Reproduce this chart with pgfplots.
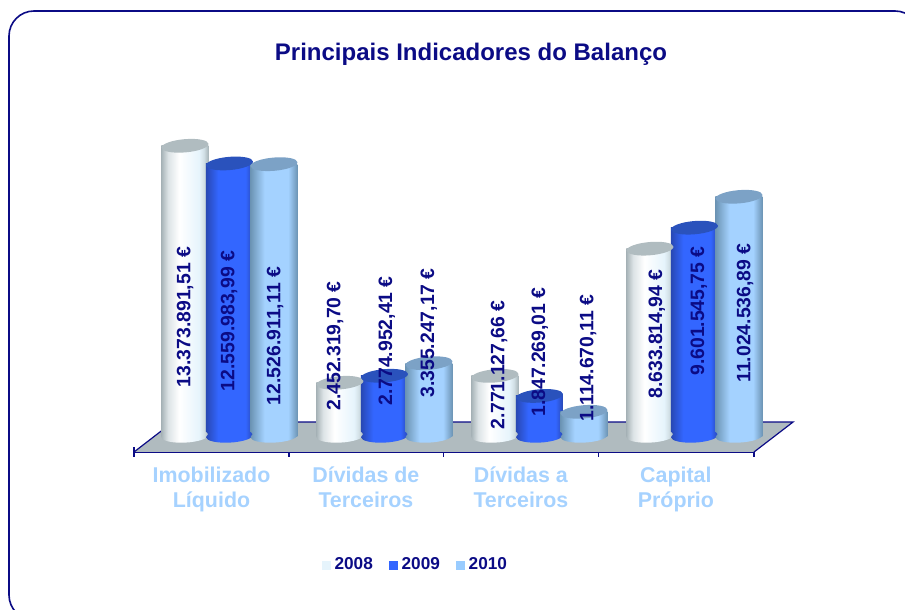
\documentclass[border=0pt]{standalone}
\usepackage{pgfplots}
\usepackage{pgfplotstable}
\usepackage{fontspec}
\setmainfont{Liberation Sans}
\pgfplotsset{compat=1.18}
\definecolor{navy}{HTML}{0B0B85}
\definecolor{catlab}{HTML}{A6D2FF}
\definecolor{floorc}{HTML}{B0BBBF}
\definecolor{capA}{HTML}{B0BCC0}
\definecolor{capB}{HTML}{2A52BC}
\definecolor{capC}{HTML}{7CA2C6}
\definecolor{legA}{HTML}{E6F4FC}
\definecolor{legB}{HTML}{3366FF}
\definecolor{legC}{HTML}{99CCFF}
\definecolor{HTMLa}{HTML}{A8B4B8}
\definecolor{HTMLb}{HTML}{DCE3E6}
\definecolor{HTMLc}{HTML}{E6F4FC}
\definecolor{HTMLd}{HTML}{D2E0E6}
\definecolor{HTMLe}{HTML}{2848B4}
\definecolor{HTMLf}{HTML}{6C94B4}
\definecolor{HTMLg}{HTML}{A4D2FF}
\pgfdeclarehorizontalshading{cylA}{100bp}{color(0bp)=(HTMLa);color(25bp)=(HTMLa);color(32bp)=(HTMLb);color(44bp)=(white);color(65bp)=(HTMLc);color(70bp)=(HTMLd);color(75bp)=(HTMLa);color(100bp)=(HTMLa)}
\pgfdeclarehorizontalshading{cylB}{100bp}{color(0bp)=(HTMLe);color(25bp)=(HTMLe);color(38bp)=(legB);color(67bp)=(legB);color(75bp)=(HTMLe);color(100bp)=(HTMLe)}
\pgfdeclarehorizontalshading{cylC}{100bp}{color(0bp)=(HTMLf);color(25bp)=(HTMLf);color(40bp)=(HTMLg);color(65bp)=(HTMLg);color(75bp)=(HTMLf);color(100bp)=(HTMLf)}
\pgfdeclareplotmark{captop}{\pgfpathellipse{\pgfpointorigin}{\pgfqpoint{11.75pt}{1pt}}{\pgfqpoint{-0.25pt}{3.3pt}}\pgfusepathqfill}
\pgfdeclareplotmark{botA}{\pgfpathellipse{\pgfpointorigin}{\pgfqpoint{11.75pt}{0.6pt}}{\pgfqpoint{-0.15pt}{3.3pt}}\pgfshadepath{cylA}{0}\pgfusepath{discard}}
\pgfdeclareplotmark{botB}{\pgfpathellipse{\pgfpointorigin}{\pgfqpoint{11.75pt}{0.6pt}}{\pgfqpoint{-0.15pt}{3.3pt}}\pgfshadepath{cylB}{0}\pgfusepath{discard}}
\pgfdeclareplotmark{botC}{\pgfpathellipse{\pgfpointorigin}{\pgfqpoint{11.75pt}{0.6pt}}{\pgfqpoint{-0.15pt}{3.3pt}}\pgfshadepath{cylC}{0}\pgfusepath{discard}}
\pgfplotstableread{
xa xb xc ya yb yc
-0.287 0 0.287 13.37389151 12.55998399 12.52691111
0.713 1 1.287 2.45231970 2.77495241 3.35524717
1.713 2 2.287 2.77112766 1.84726901 1.11467011
2.713 3 3.287 8.63381494 9.60154575 11.02453689
}\bars
\pgfplotstableread{
x y lab
-0.300 5.48 {13.373.891,51 €}
-0.016 5.30 {12.559.983,99 €}
0.281 4.61 {12.526.911,11 €}
0.668 4.15 {2.452.319,70 €}
1.003 4.38 {2.774.952,41 €}
1.274 4.75 {3.355.247,17 €}
1.726 3.27 {2.771.127,66 €}
1.990 3.87 {1.847.269,01 €}
2.300 3.59 {1.114.670,11 €}
2.745 4.70 {8.633.814,94 €}
3.016 5.76 {9.601.545,75 €}
3.313 5.67 {11.024.536,89 €}
}\labels
\pgfplotstableread{
x y
-0.616 -0.737
-0.365 0.645
3.636 0.645
3.384 -0.737
}\floorplane
\pgfplotsset{cyl/.style={forget plot,ybar,bar width=23.5pt,bar shift=0pt,draw=none,shade,shading=#1}}
\begin{document}
\begin{tikzpicture}
\useasboundingbox (0,0) rectangle (452.5pt,305pt);
\clip (0,0) rectangle (452.5pt,305pt);
\draw[navy,line width=0.8pt,rounded corners=12.5pt] (4.5pt,-5pt) rectangle (460pt,299.5pt);
\begin{axis}[
  at={(67pt,79pt)},anchor=south west,
  x=77.5pt,y=10.85pt,
  xmin=-0.616,xmax=3.384,ymin=-0.737,ymax=16,
  clip=false,
  axis x line=bottom,axis y line=none,
  axis line style={navy,line width=0.7pt,-},
  xtick={-0.116,0.88,1.88,2.88},
  xticklabels={{Imobilizado\\Líquido},{Dívidas de\\Terceiros},{Dívidas a\\Terceiros},{Capital\\Próprio}},
  minor xtick={-0.616,0.384,1.379,2.38,3.384},
  major tick length=0pt,minor tick length=5pt,
  tick align=center,
  minor tick style={navy,line width=0.7pt},
  xticklabel style={align=center,font=\fontsize{10.7}{12.5}\selectfont\bfseries,text=catlab,yshift=-4pt},
  title={Principais Indicadores do Balanço},
  title style={at={(rel axis cs:0.5435,1.062)},anchor=center,font=\fontsize{12}{14}\selectfont\bfseries,text=navy},
  legend style={at={(0.4555,-0.311)},anchor=center,draw=none,fill=none,legend columns=3,
    font=\fontsize{8.6}{10}\selectfont\bfseries,text=navy,
    /tikz/every even column/.style={column sep=6pt},
    inner sep=0pt},
  nodes near coords style={rotate=90,anchor=center,inner sep=0pt,yshift=-1pt,text=navy,font=\fontsize{9.7}{11}\selectfont\bfseries},
]
\addplot[forget plot,fill=floorc,draw=none] table[x=x,y=y]{\floorplane} -- cycle;
\addplot[forget plot,navy,line width=0.6pt] table[x=x,y=y]{\floorplane};
% 2008
\addplot[forget plot,only marks,draw=none,mark=botA] table[x=xa,y expr=0]{\bars};
\addplot[cyl=cylA] coordinates {(-0.287,13.37389151)};
\addplot[cyl=cylA] coordinates {(0.713,2.45231970)};
\addplot[cyl=cylA] coordinates {(1.713,2.77112766)};
\addplot[cyl=cylA] coordinates {(2.713,8.63381494)};
\addplot[forget plot,only marks,draw=none,mark=captop,mark options={fill=capA}] table[x=xa,y=ya]{\bars};
% 2009
\addplot[forget plot,only marks,draw=none,mark=botB] table[x=xb,y expr=0]{\bars};
\addplot[cyl=cylB] coordinates {(0,12.55998399)};
\addplot[cyl=cylB] coordinates {(1,2.77495241)};
\addplot[cyl=cylB] coordinates {(2,1.84726901)};
\addplot[cyl=cylB] coordinates {(3,9.60154575)};
\addplot[forget plot,only marks,draw=none,mark=captop,mark options={fill=capB}] table[x=xb,y=yb]{\bars};
% 2010
\addplot[forget plot,only marks,draw=none,mark=botC] table[x=xc,y expr=0]{\bars};
\addplot[cyl=cylC] coordinates {(0.287,12.52691111)};
\addplot[cyl=cylC] coordinates {(1.287,3.35524717)};
\addplot[cyl=cylC] coordinates {(2.287,1.11467011)};
\addplot[cyl=cylC] coordinates {(3.287,11.02453689)};
\addplot[forget plot,only marks,draw=none,mark=captop,mark options={fill=capC}] table[x=xc,y=yc]{\bars};
% value labels
\addplot[forget plot,only marks,mark=none,draw=none,point meta=explicit symbolic,nodes near coords] table[x=x,y=y,meta=lab]{\labels};
% legend
\addlegendimage{legend image code/.code={\fill[legA] (0pt,-2pt) rectangle (4pt,2pt);}}
\addlegendentry{2008}
\addlegendimage{legend image code/.code={\fill[legB] (0pt,-2pt) rectangle (4pt,2pt);}}
\addlegendentry{2009}
\addlegendimage{legend image code/.code={\fill[legC] (0pt,-2pt) rectangle (4pt,2pt);}}
\addlegendentry{2010}
\end{axis}
\end{tikzpicture}
\end{document}
